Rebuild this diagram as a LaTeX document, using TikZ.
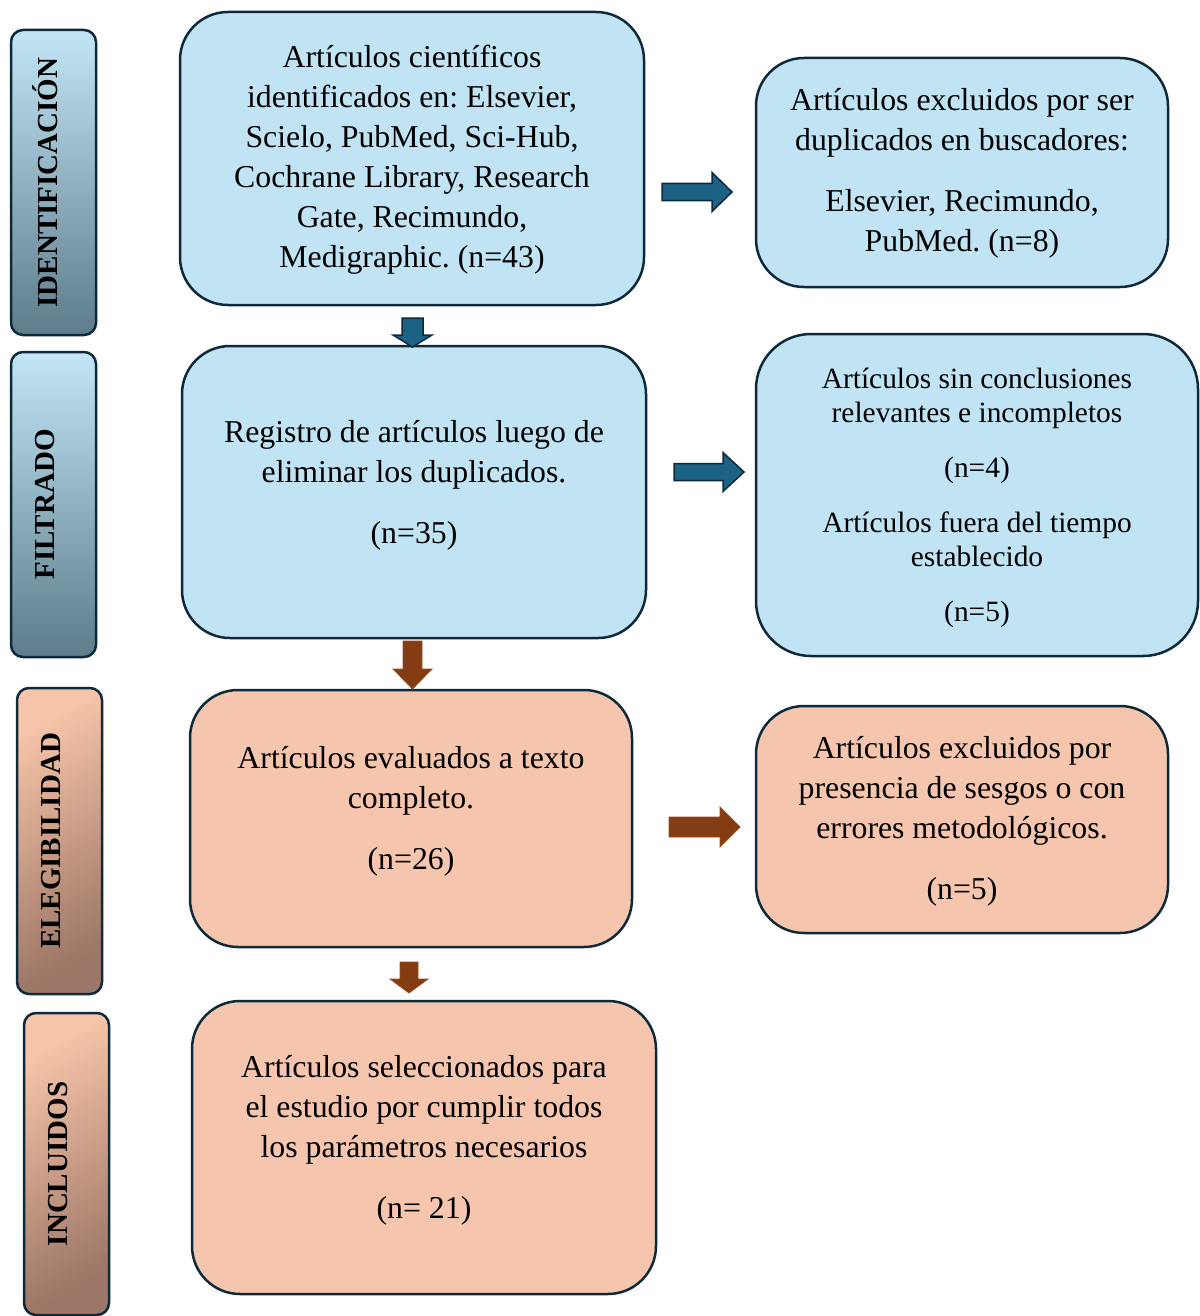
\documentclass[tikz,border=0pt]{standalone}
\usepackage{fontspec}
\setmainfont{Liberation Serif}
\frenchspacing
\usetikzlibrary{calc}
\definecolor{bluefill}{HTML}{C1E4F5}
\definecolor{peachfill}{HTML}{F5C6AD}
\definecolor{edgec}{HTML}{0E2A3A}
\definecolor{arrblue}{HTML}{1B6284}
\definecolor{arrbrown}{HTML}{843C12}
\definecolor{arrbrownedge}{HTML}{9A4A20}
\definecolor{sideblueT}{HTML}{C2E6F6}
\definecolor{sideblueB}{HTML}{5E7C8B}
\definecolor{sidepeachT}{HTML}{F6C4A8}
\definecolor{sidepeachB}{HTML}{9C7666}
\newcommand\myHArrow[7]{% style, xs, xe, y, h, H, L
  \draw[#1] (#2,#4-#5) -- (#3-#7,#4-#5) -- (#3-#7,#4-#6) -- (#3,#4) -- (#3-#7,#4+#6) -- (#3-#7,#4+#5) -- (#2,#4+#5) -- cycle;}
\newcommand\myVArrow[7]{% style, ys, ye, x, w, W, L
  \draw[#1] (#4-#5,#2) -- (#4-#5,#3-#7) -- (#4-#6,#3-#7) -- (#4,#3) -- (#4+#6,#3-#7) -- (#4+#5,#3-#7) -- (#4+#5,#2) -- cycle;}
\begin{document}
\begin{tikzpicture}[x=1pt,y=-1pt,
  mainbox/.style={draw=edgec, line width=2.5pt, rounded corners=48pt, inner sep=0pt},
  bluebox/.style={mainbox, fill=bluefill},
  peachbox/.style={mainbox, fill=peachfill},
  sidebox/.style={draw=edgec, line width=2.5pt, rounded corners=12pt, inner sep=0pt, minimum width=85pt},
  sideblue/.style={sidebox, top color=sideblueT, bottom color=sideblueB},
  sidepeach/.style={sidebox, top color=sidepeachT, bottom color=sidepeachB, shading angle=30},
  sidetext/.style={rotate=90, font=\bfseries\fontsize{29}{34}\selectfont, inner sep=0pt},
  maintext/.style={align=center, font=\fontsize{31.8}{40}\selectfont, inner sep=0pt},
  smalltext/.style={align=center, font=\fontsize{29.4}{34}\selectfont, inner sep=0pt},
  bluearr/.style={fill=arrblue, draw=edgec, line width=1.5pt},
  brownarr/.style={fill=arrbrown, draw=arrbrownedge, line width=0.8pt}
]
\useasboundingbox (0,0) rectangle (1199,1316);

% side labels
\node[sideblue, minimum height=305pt] (L1) at (53.5,182.5) {};
\node[sidetext] (L1t) at (45,182.5) {IDENTIFICACIÓN};
\node[sideblue, minimum height=305pt] (L2) at (53.5,504.5) {};
\node[sidetext] (L2t) at (45,504.5) {FILTRADO};
\node[sidepeach, minimum height=306pt] (L3) at (59.5,841) {};
\node[sidetext] (L3t) at (51,841) {ELEGIBILIDAD};
\node[sidepeach, minimum height=302pt] (L4) at (66.5,1164) {};
\node[sidetext] (L4t) at (58,1164) {INCLUIDOS};

% main boxes
\node[bluebox, minimum width=464pt, minimum height=293pt] (A) at (412,158.5) {};
\node[maintext] (At) at (412,160) {Artículos científicos\\identificados en: Elsevier,\\Scielo, PubMed, Sci-Hub,\\Cochrane Library, Research\\Gate, Recimundo,\\Medigraphic. (n=43)};

\node[bluebox, minimum width=412pt, minimum height=229pt] (E) at (962,172.5) {};
\node[maintext] (Et) at (962,173) {Artículos excluidos por ser\\duplicados en buscadores:\\[21pt]Elsevier, Recimundo,\\PubMed. (n=8)};

\node[bluebox, minimum width=464pt, minimum height=292pt] (B) at (414,492) {};
\node[maintext] (Bt) at (414,485.5) {Registro de artículos luego de\\eliminar los duplicados.\\[21pt](n=35)};

\node[bluebox, minimum width=442pt, minimum height=322pt, rounded corners=55pt] (F) at (977,495) {};
\node[smalltext] (Ft) at (977,497.5) {Artículos sin conclusiones\\relevantes e incompletos\\[21pt](n=4)\\[21pt]Artículos fuera del tiempo\\establecido\\[21pt](n=5)};

\node[peachbox, minimum width=442pt, minimum height=257pt] (C) at (411,818.5) {};
\node[maintext] (Ct) at (411,811.5) {Artículos evaluados a texto\\completo.\\[21pt](n=26)};

\node[peachbox, minimum width=412pt, minimum height=227pt] (G) at (962,819.5) {};
\node[maintext] (Gt) at (962,821.5) {Artículos excluidos por\\presencia de sesgos o con\\errores metodológicos.\\[21pt](n=5)};

\node[peachbox, minimum width=464pt, minimum height=293pt] (D) at (424,1147.5) {};
\node[maintext] (Dt) at (424,1140.5) {Artículos seleccionados para\\el estudio por cumplir todos\\los parámetros necesarios\\[21pt](n= 21)};

% block arrows
\myHArrow{bluearr}{662}{732}{192}{8.5}{19.5}{20}
\myHArrow{bluearr}{674}{744}{472}{8.5}{19.5}{21}
\myHArrow{brownarr}{669}{740}{827}{10}{20}{20}
\myVArrow{bluearr}{318}{347}{412.5}{10.5}{19.5}{12}
\myVArrow{brownarr}{641}{689}{412.5}{9.5}{19.5}{20}
\myVArrow{brownarr}{962}{993}{409}{9}{19}{14}
\end{tikzpicture}
\end{document}
